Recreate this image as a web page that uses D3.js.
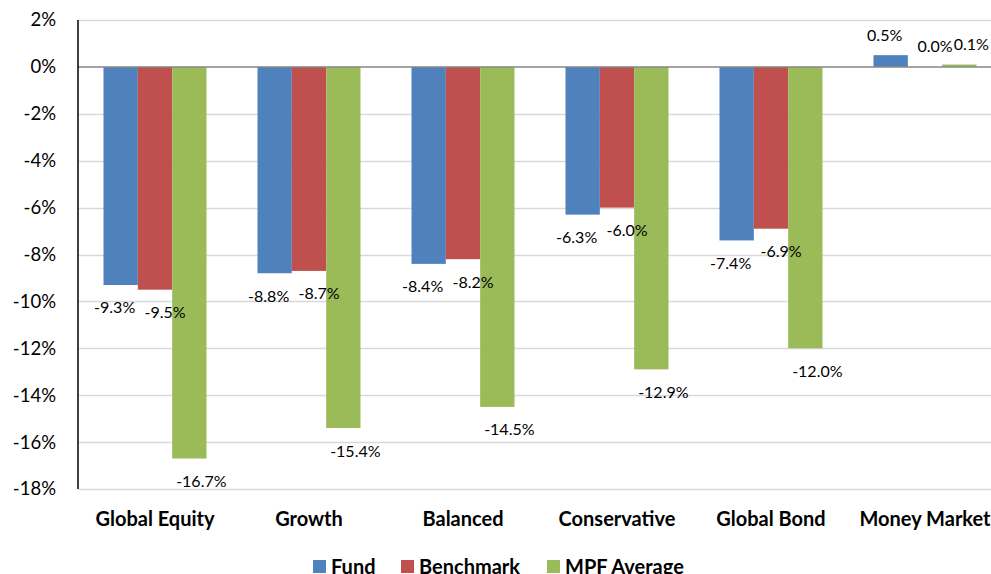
<!DOCTYPE html>
<html>
<head>
<meta charset="utf-8">
<script src="https://cdn.jsdelivr.net/npm/d3@7"></script>
<style>
  html, body { margin: 0; padding: 0; background: #fff; }
  svg { display: block; font-family: Lato, "Open Sans", sans-serif; }
</style>
</head>
<body>
<svg id="chart" width="991" height="574"></svg>
<script>
// ---- Data ----
const categories = ["Global Equity", "Growth", "Balanced", "Conservative", "Global Bond", "Money Market"];
const seriesNames = ["Fund", "Benchmark", "MPF Average"];
const fundValues = [-9.3, -8.8, -8.4, -6.3, -7.4, 0.5];
const benchmarkValues = [-9.5, -8.7, -8.2, -6.0, -6.9, 0.0];
const mpfAverageValues = [-16.7, -15.4, -14.5, -12.9, -12.0, 0.1];
const yTicks = [2, 0, -2, -4, -6, -8, -10, -12, -14, -16, -18];

// ---- Styles / layout ----
const colors = { "Fund": "#4F81BD", "Benchmark": "#C0504D", "MPF Average": "#9BBB59" };
const labelDx = { "Fund": -6, "Benchmark": 10, "MPF Average": 12 };
const W = 991, H = 574;
const plot = { left: 78, top: 20, bottom: 489, step: 154 };

const seriesValues = [fundValues, benchmarkValues, mpfAverageValues];
const svg = d3.select("#chart");
svg.append("rect").attr("width", W).attr("height", H).attr("fill", "#fff");

const y = d3.scaleLinear().domain([-18, 2]).range([plot.bottom, plot.top]);
const pi = 51 / 154;
const x0 = d3.scaleBand().domain(categories)
  .range([plot.left, plot.left + plot.step * categories.length])
  .paddingInner(pi).paddingOuter(pi / 2);
const x1 = d3.scaleBand().domain(seriesNames).range([0, x0.bandwidth()]).padding(0);

// gridlines
svg.append("g").selectAll("line").data(yTicks.filter(t => t !== 0)).join("line")
  .attr("x1", plot.left).attr("x2", W)
  .attr("y1", d => Math.round(y(d)) + 0.5).attr("y2", d => Math.round(y(d)) + 0.5)
  .attr("stroke", "#d9d9d9").attr("stroke-width", 1.5);

// y-axis
const yAxis = d3.axisLeft(y).tickValues(yTicks).tickSize(0).tickPadding(22)
  .tickFormat(d => d + "%");
const yg = svg.append("g").attr("transform", `translate(${plot.left},0)`).call(yAxis);
yg.select(".domain").remove();
yg.selectAll("text").attr("font-size", 18.5).attr("fill", "#000").attr("font-family", "Lato, sans-serif");

// bars
const data = [];
categories.forEach((c, i) => {
  seriesNames.forEach((s, j) => data.push({ cat: c, series: s, value: seriesValues[j][i] }));
});

svg.append("g").selectAll("rect").data(data).join("rect")
  .attr("x", d => x0(d.cat) + x1(d.series))
  .attr("width", x1.bandwidth())
  .attr("y", d => y(Math.max(0, d.value)))
  .attr("height", d => Math.abs(y(d.value) - y(0)))
  .attr("fill", d => colors[d.series]);

// zero line
svg.append("line").attr("x1", plot.left).attr("x2", W)
  .attr("y1", y(0)).attr("y2", y(0))
  .attr("stroke", "#868686").attr("stroke-width", 1.5);

// left axis line
svg.append("line").attr("x1", plot.left).attr("x2", plot.left)
  .attr("y1", plot.top).attr("y2", plot.bottom)
  .attr("stroke", "#000").attr("stroke-width", 1.5);

// data labels
svg.append("g").selectAll("text").data(data).join("text")
  .attr("x", d => x0(d.cat) + x1(d.series) + x1.bandwidth() / 2 + labelDx[d.series])
  .attr("y", d => y(d.value) + (d.value < 0 ? 22 : -21))
  .attr("text-anchor", "middle").attr("dominant-baseline", "central")
  .attr("font-size", 16).attr("fill", "#000")
  .text(d => d.value.toFixed(1) + "%");

// category labels
svg.append("g").selectAll("text").data(categories).join("text")
  .attr("x", d => x0(d) + x0.bandwidth() / 2)
  .attr("y", 518)
  .attr("text-anchor", "middle").attr("dominant-baseline", "central")
  .attr("font-size", 20).attr("font-weight", "bold").attr("fill", "#000")
  .text(d => d);

// legend
const legendX = [313, 401, 547];
const lg = svg.append("g").selectAll("g").data(seriesNames).join("g")
  .attr("transform", (d, i) => `translate(${legendX[i]},566)`);
lg.append("rect").attr("x", 0).attr("y", -6).attr("width", 13).attr("height", 13)
  .attr("fill", d => colors[d]);
lg.append("text").attr("x", 18).attr("y", 0).attr("dominant-baseline", "central")
  .attr("font-size", 20).attr("font-weight", "bold").attr("fill", "#000")
  .text(d => d);
</script>
</body>
</html>
